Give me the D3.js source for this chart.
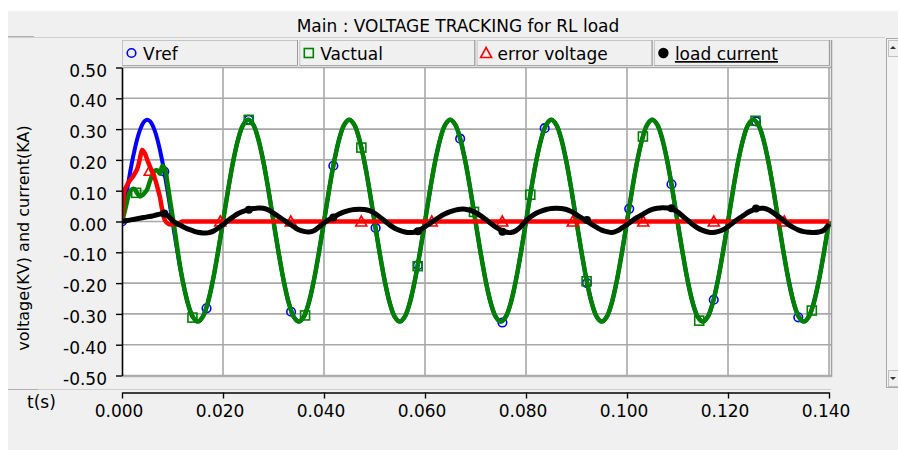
<!DOCTYPE html>
<html><head><meta charset="utf-8">
<script src="https://cdn.jsdelivr.net/npm/d3@7"></script>
<style>body{margin:0;background:#fff}svg{display:block}text{font-family:"DejaVu Sans",Verdana,sans-serif;fill:#000}</style>
</head><body><svg id="c" width="898" height="450"></svg>
<script>
const title = "Main : VOLTAGE TRACKING for RL load";
const yTitle = "voltage(KV) and current(KA)";
const xTitle = "t(s)";
const seriesNames = ["Vref", "Vactual", "error voltage", "load current"];
const seriesColors = ["#0000ff", "#008000", "#ff0000", "#000000"];
const yTicks = [0.5,0.4,0.3,0.2,0.1,0,-0.1,-0.2,-0.3,-0.4,-0.5];
const xTicks = [0,0.02,0.04,0.06,0.08,0.10,0.12,0.14];

// sample times (ms): 0.5 ms steps for first 12 ms, then 1 ms
const timeMs = [...d3.range(0, 12.5, 0.5), ...d3.range(13, 141)];
const time = timeMs.map(d => d / 1000);

const vref = [
 0,0.051,0.102,0.150,0.194,0.233,0.267,0.294,0.314,0.326,0.330,0.326,0.314,0.294,0.267,0.233,0.194,0.150,0.102,0.051,0.000,-0.051,-0.100,-0.148,-0.191,
 -0.263,-0.309,-0.325,-0.309,-0.263,-0.191,-0.100,
 0,0.102,0.194,0.267,0.314,0.330,0.314,0.267,0.194,0.102,0,-0.100,-0.191,-0.263,-0.309,-0.325,-0.309,-0.263,-0.191,-0.100,
 0,0.102,0.194,0.267,0.314,0.330,0.314,0.267,0.194,0.102,0,-0.100,-0.191,-0.263,-0.309,-0.325,-0.309,-0.263,-0.191,-0.100,
 0,0.102,0.194,0.267,0.314,0.330,0.314,0.267,0.194,0.102,0,-0.100,-0.191,-0.263,-0.309,-0.325,-0.309,-0.263,-0.191,-0.100,
 0,0.102,0.194,0.267,0.314,0.330,0.314,0.267,0.194,0.102,0,-0.100,-0.191,-0.263,-0.309,-0.325,-0.309,-0.263,-0.191,-0.100,
 0,0.102,0.194,0.267,0.314,0.330,0.314,0.267,0.194,0.102,0,-0.100,-0.191,-0.263,-0.309,-0.325,-0.309,-0.263,-0.191,-0.100,
 0,0.102,0.194,0.267,0.314,0.330,0.314,0.267,0.194,0.102,0,-0.100,-0.191,-0.263,-0.309,-0.325,-0.309,-0.263,-0.191,-0.100,
 0
];
const vactual = [
 0,0.030,0.065,0.095,0.105,0.105,0.092,0.082,0.085,0.093,0.105,0.130,0.150,0.165,0.166,0.155,0.180,0.170,0.125,0.070,0.018,-0.035,-0.092,-0.146,-0.191,
 -0.263,-0.309,-0.325,-0.309,-0.263,-0.191,-0.100,
 0,0.102,0.194,0.267,0.314,0.330,0.314,0.267,0.194,0.102,0,-0.100,-0.191,-0.263,-0.309,-0.325,-0.309,-0.263,-0.191,-0.100,
 0,0.102,0.194,0.267,0.314,0.330,0.314,0.267,0.194,0.102,0,-0.100,-0.191,-0.263,-0.309,-0.325,-0.309,-0.263,-0.191,-0.100,
 0,0.102,0.194,0.267,0.314,0.330,0.314,0.267,0.194,0.102,0,-0.100,-0.191,-0.263,-0.309,-0.325,-0.309,-0.263,-0.191,-0.100,
 0,0.102,0.194,0.267,0.314,0.330,0.314,0.267,0.194,0.102,0,-0.100,-0.191,-0.263,-0.309,-0.325,-0.309,-0.263,-0.191,-0.100,
 0,0.102,0.194,0.267,0.314,0.330,0.314,0.267,0.194,0.102,0,-0.100,-0.191,-0.263,-0.309,-0.325,-0.309,-0.263,-0.191,-0.100,
 0,0.102,0.194,0.267,0.314,0.330,0.314,0.267,0.194,0.102,0,-0.100,-0.191,-0.263,-0.309,-0.325,-0.309,-0.263,-0.191,-0.100,
 0
];
const errorV = [
 0,0.100,0.118,0.132,0.142,0.155,0.170,0.200,0.232,0.222,0.200,0.180,0.160,0.140,0.112,0.080,0.035,0.004,-0.006,-0.010,-0.006,-0.010,-0.007,-0.004,0,
 0,0,0,0,0,0,0,
 0,0,0,0,0,0,0,0,0,0,0,0,0,0,0,0,0,0,0,0,
 0,0,0,0,0,0,0,0,0,0,0,0,0,0,0,0,0,0,0,0,
 0,0,0,0,0,0,0,0,0,0,0,0,0,0,0,0,0,0,0,0,
 0,0,0,0,0,0,0,0,0,0,0,0,0,0,0,0,0,0,0,0,
 0,0,0,0,0,0,0,0,0,0,0,0,0,0,0,0,0,0,0,0,
 0,0,0,0,0,0,0,0,0,0,0,0,0,0,0,0,0,0,0,0,
 0
];
const current = [
 0,0.0015,0.003,0.0045,0.006,0.0075,0.009,0.0105,0.012,0.0135,0.015,0.0165,0.018,0.020,0.022,0.024,0.026,0.025,0.020,0.012,0.003,-0.003,-0.008,-0.012,-0.016,
 -0.024,-0.030,-0.035,-0.037,-0.037,-0.032,-0.022,
 -0.010,0.003,0.015,0.026,0.033,0.038,0.042,0.044,0.043,0.037,0.027,0.016,0.005,-0.006,-0.017,-0.027,-0.032,-0.034,-0.030,-0.018,
 -0.005,0.006,0.015,0.024,0.031,0.036,0.039,0.040,0.039,0.035,0.027,0.015,0.002,-0.011,-0.022,-0.029,-0.034,-0.036,-0.034,-0.027,
 -0.017,-0.006,0.005,0.016,0.025,0.032,0.037,0.040,0.040,0.036,0.029,0.019,0.007,-0.006,-0.018,-0.028,-0.034,-0.036,-0.030,-0.016,
 0.002,0.016,0.027,0.034,0.039,0.042,0.043,0.042,0.039,0.032,0.022,0.012,0.002,-0.009,-0.019,-0.028,-0.033,-0.036,-0.031,-0.021,
 -0.010,0.002,0.013,0.022,0.032,0.039,0.043,0.045,0.044,0.040,0.031,0.018,0.004,-0.010,-0.021,-0.029,-0.034,-0.036,-0.033,-0.027,
 -0.017,-0.004,0.008,0.019,0.030,0.038,0.042,0.043,0.038,0.028,0.016,0.003,-0.010,-0.020,-0.028,-0.033,-0.035,-0.036,-0.034,-0.028,
 -0.008
];

// marker points
const vrefMarkT = [0,0.00837,0.01674,0.02511,0.03348,0.04185,0.05022,0.05859,0.06696,0.07533,0.0837,0.09207,0.10044,0.10881,0.11718,0.12555,0.13392];
const vrefMarkV = [0,0.162,-0.282,0.330,-0.293,0.181,-0.021,-0.142,0.269,-0.328,0.303,-0.200,0.041,0.121,-0.254,0.325,-0.311];
const vactMarkT = [0.0028,0.01395,0.0251,0.03625,0.0474,0.05855,0.0697,0.08085,0.092,0.10315,0.1143,0.12545,0.1366];
const vactMarkV = [0.093,-0.312,0.330,-0.305,0.240,-0.145,0.031,0.087,-0.194,0.276,-0.322,0.327,-0.289];
const errMarkT = [0.0055,0.01946,0.03342,0.04738,0.06134,0.0753,0.08926,0.10322,0.11718,0.13114];
const errMarkV = [0.165,0,0,0,0,0,0,0,0,0];
const curMarkT = [0.00837,0.02511,0.04185,0.05859,0.07533,0.09207,0.10881,0.12555];
const curMarkV = [0.026,0.038,0.013,-0.032,-0.033,0.005,0.043,0.042];

const svg = d3.select('#c');
const FS = 17;

// panel background
svg.append('rect').attr('x',8).attr('y',11).attr('width',890).attr('height',439).attr('fill','#f0f0f0');
svg.append('text').attr('x',458).attr('y',32).attr('text-anchor','middle').attr('font-size',FS).text(title);
svg.append('line').attr('x1',8).attr('x2',885).attr('y1',37.5).attr('y2',37.5).attr('stroke','#cfcfcf');
svg.append('line').attr('x1',8).attr('x2',34).attr('y1',36.5).attr('y2',36.5).attr('stroke','#b0b0b0');

const x = d3.scaleLinear().domain([0,0.14]).range([122,829]);
const y = d3.scaleLinear().domain([-0.5,0.5]).range([375.5,67.5]);

// plot area
svg.append('rect').attr('x',122).attr('y',67).attr('width',709).attr('height',309).attr('fill','#fff');
const grid = svg.append('g');
yTicks.forEach(v => grid.append('line').attr('x1',122).attr('x2',831).attr('y1',y(v)).attr('y2',y(v)).attr('stroke','#a8a8a8').attr('stroke-width',1.6));
xTicks.slice(1).forEach(v => grid.append('line').attr('x1',x(v)).attr('x2',x(v)).attr('y1',67).attr('y2',376).attr('stroke','#a8a8a8').attr('stroke-width',1.6));
svg.append('line').attr('x1',831.5).attr('x2',831.5).attr('y1',40).attr('y2',377).attr('stroke','#a0a0a0').attr('stroke-width',1.5);
svg.append('line').attr('x1',122).attr('x2',832).attr('y1',376.5).attr('y2',376.5).attr('stroke','#b0b0b0').attr('stroke-width',1.5);

function drawSymbol(g, i, cx, cy, big) {
  const c = seriesColors[i];
  if (i === 0) g.append('circle').attr('cx',cx).attr('cy',cy).attr('r',4.3).attr('fill','none').attr('stroke',c).attr('stroke-width',1.6);
  if (i === 1) g.append('rect').attr('x',cx-4.5).attr('y',cy-4.5).attr('width',9).attr('height',9).attr('fill','none').attr('stroke',c).attr('stroke-width',1.6);
  if (i === 2) g.append('path').attr('d',`M${cx},${cy-5.5}L${cx+5.5},${cy+4.5}L${cx-5.5},${cy+4.5}Z`).attr('fill','none').attr('stroke',c).attr('stroke-width',1.6);
  if (i === 3) g.append('circle').attr('cx',cx).attr('cy',cy).attr('r',big ? 5.2 : 4).attr('fill',c);
}

// legend
seriesNames.forEach((name, i) => {
  const x0 = 122 + i * 177.3;
  const g = svg.append('g');
  g.append('rect').attr('x',x0+0.5).attr('y',40.5).attr('width',175).attr('height',25).attr('fill','#f0f0f0').attr('stroke','#c4c4c4');
  g.append('line').attr('x1',x0+175.5).attr('x2',x0+175.5).attr('y1',40).attr('y2',66).attr('stroke','#999');
  g.append('line').attr('x1',x0).attr('x2',x0+176).attr('y1',65.5).attr('y2',65.5).attr('stroke','#aaa');
  drawSymbol(g, i, x0 + 9.5, 53, true);
  const t = g.append('text').attr('x',x0+21).attr('y',60).attr('font-size',FS).text(name);
  if (i === 3) t.attr('text-decoration','underline');
});

// series
svg.append('clipPath').attr('id','clip').append('rect').attr('x',122).attr('y',67).attr('width',709).attr('height',309);
const plot = svg.append('g').attr('clip-path','url(#clip)');
const seriesData = [vref, vactual, errorV, current];
const markT = [vrefMarkT, vactMarkT, errMarkT, curMarkT];
const markV = [vrefMarkV, vactMarkV, errMarkV, curMarkV];
const widths = [4, 4.5, 4.5, 5];
seriesData.forEach((vals, i) => {
  const line = d3.line().x((d, k) => x(time[k])).y(d => y(d)).curve(d3.curveCatmullRom.alpha(0.5));
  plot.append('path').attr('d', line(vals)).attr('fill','none').attr('stroke',seriesColors[i]).attr('stroke-width',widths[i]).attr('stroke-linejoin','round');
  markT[i].forEach((t, k) => drawSymbol(plot, i, x(t), y(markV[i][k]), false));
});

// y axis
const yAxis = svg.append('g').attr('transform','translate(122,0)')
  .call(d3.axisLeft(y).tickValues(yTicks).tickSize(6).tickSizeOuter(0).tickPadding(9).tickFormat(d => d.toFixed(2)));
yAxis.select('.domain').attr('stroke','#000').attr('stroke-width',1.6);
yAxis.selectAll('.tick line').attr('stroke','#000').attr('stroke-width',1.4);
yAxis.selectAll('text').attr('font-size',FS).attr('font-family','"DejaVu Sans",Verdana,sans-serif').attr('dy','0.5em');

svg.append('text').attr('transform','translate(29,238) rotate(-90)').attr('text-anchor','middle').attr('font-size',16).text(yTitle);

// x axis panel
svg.append('line').attr('x1',38).attr('x2',831).attr('y1',389.5).attr('y2',389.5).attr('stroke','#cfcfcf');
svg.append('line').attr('x1',8).attr('x2',38).attr('y1',389.5).attr('y2',389.5).attr('stroke','#b0b0b0');
const xAxis = svg.append('g').attr('transform','translate(0,392.5)')
  .call(d3.axisBottom(x).tickValues(xTicks).tickSize(6).tickSizeOuter(0).tickPadding(6).tickFormat(d => d.toFixed(3)));
xAxis.select('.domain').attr('stroke','#000').attr('stroke-width',1.6);
xAxis.selectAll('.tick line').attr('stroke','#000').attr('stroke-width',1.4);
xAxis.selectAll('text').attr('font-size',FS).attr('font-family','"DejaVu Sans",Verdana,sans-serif').attr('dx',-3.5);
svg.append('text').attr('x',27).attr('y',408).attr('font-size',FS).text(xTitle);

// scrollbar
svg.append('rect').attr('x',886.5).attr('y',38.5).attr('width',12).attr('height',349).attr('fill','#f4f4f4').attr('stroke','#a8a8a8');
svg.append('rect').attr('x',888.5).attr('y',40.5).attr('width',10).attr('height',16).attr('fill','#f0f0f0').attr('stroke','#c0c0c0');
svg.append('rect').attr('x',888.5).attr('y',370.5).attr('width',10).attr('height',16).attr('fill','#f0f0f0').attr('stroke','#c0c0c0');
svg.append('path').attr('d','M893,46L896,49L890,49Z').attr('fill','#333');
svg.append('path').attr('d','M890,377L896,377L893,380Z').attr('fill','#333');
</script></body></html>
